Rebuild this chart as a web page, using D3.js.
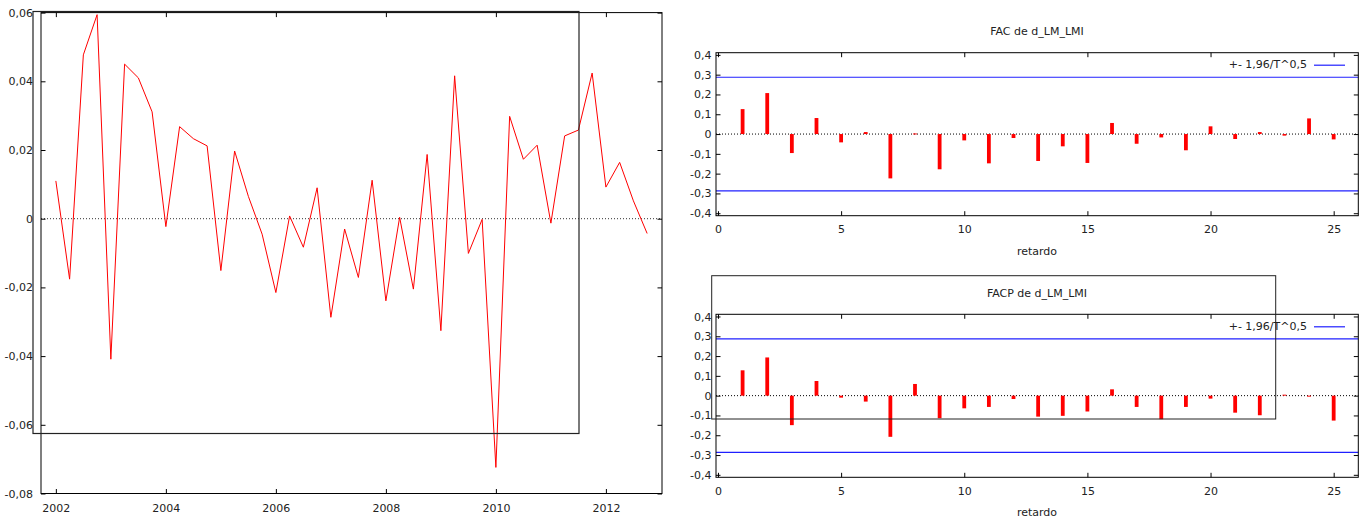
<!DOCTYPE html>
<html>
<head>
<meta charset="utf-8">
<script src="https://cdn.jsdelivr.net/npm/d3@7"></script>
<style>
  html, body { margin: 0; padding: 0; background: #fff; }
  svg { display: block; }
  text { font-family: "DejaVu Sans", Verdana, sans-serif; font-size: 11px; fill: #222; }
</style>
</head>
<body>
<svg id="chart" width="1366" height="520"></svg>
<script>
// ---- Data ----
const startYear = 2002;            // first quarter: 2002 Q1
const seriesValues = [
  0.0110, -0.0176, 0.0477, 0.0594, -0.0409, 0.0450, 0.0410, 0.0311,
  -0.0023, 0.0268, 0.0233, 0.0212, -0.0151, 0.0197, 0.0065, -0.0045,
  -0.0215, 0.0008, -0.0083, 0.0090, -0.0287, -0.0030, -0.0171, 0.0112,
  -0.0239, 0.0004, -0.0205, 0.0187, -0.0326, 0.0416, -0.0101, -0.0002,
  -0.0724, 0.0298, 0.0173, 0.0214, -0.0013, 0.0241, 0.0258, 0.0424,
  0.0092, 0.0164, 0.0052, -0.0043
];
const yearTicks = [2002, 2004, 2006, 2008, 2010, 2012];
const seriesTicks = [-0.08, -0.06, -0.04, -0.02, 0, 0.02, 0.04, 0.06];

const lags = d3.range(1, 26);
const facValues = [
  0.126, 0.207, -0.096, 0.081, -0.042, 0.010, -0.224, 0.003, -0.178, -0.032,
  -0.148, -0.020, -0.136, -0.062, -0.146, 0.056, -0.049, -0.017, -0.082, 0.039,
  -0.025, 0.010, -0.008, 0.079, -0.027
];
const facpValues = [
  0.128, 0.193, -0.149, 0.074, -0.010, -0.030, -0.208, 0.059, -0.114, -0.064,
  -0.057, -0.017, -0.106, -0.102, -0.080, 0.032, -0.057, -0.119, -0.057, -0.015,
  -0.086, -0.099, 0.005, -0.005, -0.126
];
const confBand = 0.287;            // +- 1,96/T^0,5
const lagTicks = [0, 5, 10, 15, 20, 25];
const corrTicks = [-0.4, -0.3, -0.2, -0.1, 0, 0.1, 0.2, 0.3, 0.4];
const legendLabel = "+- 1,96/T^0,5";
const titles = ["FAC de d_LM_LMI", "FACP de d_LM_LMI"];
const xLabel = "retardo";

// ---- Helpers ----
const svg = d3.select("#chart");
const fmt = d => d === 0 ? "0" : d3.format(".2~f")(d).replace(".", ",").replace("−", "-");
const fmt1 = d => d === 0 ? "0" : d3.format(".1f")(d).replace(".", ",").replace("−", "-");

function styleAxis(g) {
  g.select(".domain").remove();
  g.selectAll(".tick line").attr("stroke", "#000").attr("stroke-width", 1);
  g.selectAll(".tick text").style("fill", "#222").style("font-size", "11px")
    .style("font-family", '"DejaVu Sans", Verdana, sans-serif');
}

// ---- Left: time series ----
(function () {
  const L = 41, R = 662, T = 12.6, B = 493.5;
  const x = d3.scaleLinear().domain([2001.73, 2013.02]).range([L, R]);
  const y = d3.scaleLinear().domain([-0.08, 0.06]).range([B, T]);
  const g = svg.append("g");
  const pts = seriesValues.map((v, i) => [startYear + i / 4, v]);

  g.append("line").attr("x1", L).attr("x2", R).attr("y1", y(0)).attr("y2", y(0))
    .attr("stroke", "#333").attr("stroke-dasharray", "1,2").attr("stroke-width", 1);

  g.append("path").datum(pts)
    .attr("fill", "none").attr("stroke", "#ff0000").attr("stroke-width", 1)
    .attr("d", d3.line().x(d => x(d[0])).y(d => y(d[1])));

  g.append("g").attr("transform", `translate(0,${B})`)
    .call(d3.axisBottom(x).tickValues(yearTicks).tickFormat(d3.format("d")).tickSize(-4.5).tickPadding(11))
    .call(styleAxis);
  g.append("g").attr("transform", `translate(0,${T})`)
    .call(d3.axisTop(x).tickValues(yearTicks).tickFormat("").tickSize(-4.5))
    .call(styleAxis);
  g.append("g").attr("transform", `translate(${L},0)`)
    .call(d3.axisLeft(y).tickValues(seriesTicks).tickFormat(fmt).tickSize(-4.5).tickPadding(8))
    .call(styleAxis);
  g.append("g").attr("transform", `translate(${R},0)`)
    .call(d3.axisRight(y).tickValues(seriesTicks).tickFormat("").tickSize(-4.5))
    .call(styleAxis);

  g.append("rect").attr("x", L).attr("y", T).attr("width", R - L).attr("height", B - T)
    .attr("fill", "none").attr("stroke", "#000").attr("stroke-width", 1);
  // overlay frame artifact
  g.append("rect").attr("x", 33).attr("y", 11.5).attr("width", 546).attr("height", 422)
    .attr("fill", "none").attr("stroke", "#222").attr("stroke-width", 1.2);
})();

// ---- Right: correlograms ----
function correlogram(values, top, title) {
  const L = 716, R = 1358.3, T = top, B = top + 163;
  const x = d3.scaleLinear().domain([-0.08, 26]).range([L, R]);
  const y = d3.scaleLinear().domain([-0.4125, 0.411]).range([B, T]);
  const g = svg.append("g");

  g.append("text").attr("x", 1037).attr("y", top - 20.5).attr("text-anchor", "middle")
    .attr("dominant-baseline", "middle").text(title);

  g.append("line").attr("x1", L).attr("x2", R).attr("y1", y(0)).attr("y2", y(0))
    .attr("stroke", "#000").attr("stroke-dasharray", "1,2").attr("stroke-width", 1);

  [confBand, -confBand].forEach(c => {
    g.append("line").attr("x1", L).attr("x2", R).attr("y1", y(c)).attr("y2", y(c))
      .attr("stroke", "#2020ff").attr("stroke-width", 1.2);
  });

  g.selectAll("rect.bar").data(values).join("rect").attr("class", "bar")
    .attr("x", (d, i) => x(lags[i]) - 1.9).attr("width", 3.8)
    .attr("y", d => y(Math.max(0, d)))
    .attr("height", d => Math.max(1, Math.abs(y(d) - y(0))))
    .attr("fill", "#ff0000");

  g.append("g").attr("transform", `translate(0,${B})`)
    .call(d3.axisBottom(x).tickValues(lagTicks).tickFormat(d3.format("d")).tickSize(-4.5).tickPadding(10))
    .call(styleAxis);
  g.append("g").attr("transform", `translate(0,${T})`)
    .call(d3.axisTop(x).tickValues(lagTicks).tickFormat("").tickSize(-4.5))
    .call(styleAxis);
  g.append("g").attr("transform", `translate(${L},0)`)
    .call(d3.axisLeft(y).tickValues(corrTicks).tickFormat(fmt1).tickSize(-4.5).tickPadding(4.5))
    .call(styleAxis);
  g.append("g").attr("transform", `translate(${R},0)`)
    .call(d3.axisRight(y).tickValues(corrTicks).tickFormat("").tickSize(-4.5))
    .call(styleAxis);

  g.append("rect").attr("x", L).attr("y", T).attr("width", R - L).attr("height", B - T)
    .attr("fill", "none").attr("stroke", "#000").attr("stroke-width", 1);

  // legend
  const ly = T + 12.5;
  g.append("text").attr("x", 1307).attr("y", ly).attr("text-anchor", "end")
    .attr("dominant-baseline", "middle").text(legendLabel);
  g.append("line").attr("x1", 1314).attr("x2", 1345).attr("y1", ly).attr("y2", ly)
    .attr("stroke", "#2020ff").attr("stroke-width", 1.2);

  g.append("text").attr("x", 1037).attr("y", B + 36).attr("text-anchor", "middle")
    .attr("dominant-baseline", "middle").text(xLabel);
  return g;
}

correlogram(facValues, 52.7, titles[0]);
const g2 = correlogram(facpValues, 314.3, titles[1]);
// overlay frame artifact on lower correlogram
g2.append("rect").attr("x", 711.7).attr("y", 275.7).attr("width", 564).attr("height", 143.3)
  .attr("fill", "none").attr("stroke", "#222").attr("stroke-width", 1);
</script>
</body>
</html>
